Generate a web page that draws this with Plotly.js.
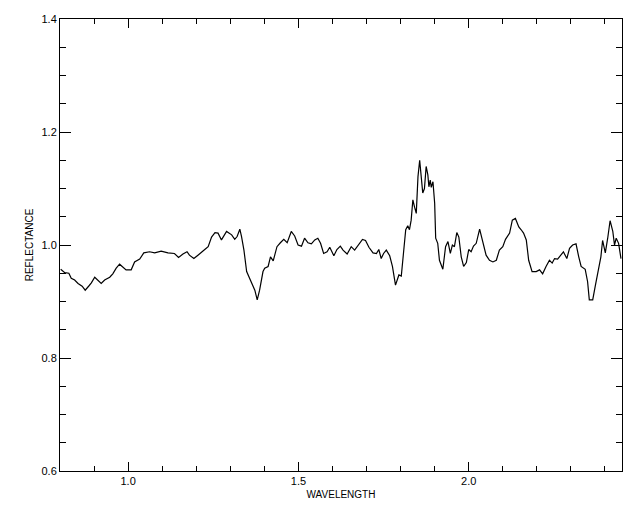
<!DOCTYPE html>
<html>
<head>
<meta charset="utf-8">
<script src="https://cdn.plot.ly/plotly-3.0.1.min.js"></script>
<style>
  html, body { margin: 0; padding: 0; background: #fff; }
  #chart { width: 640px; height: 512px; }
</style>
</head>
<body>
<div id="chart"></div>
<script>
// Wavelength (microns)
const wavelength = [
  0.802, 0.814, 0.826, 0.833, 0.843, 0.853, 0.865, 0.874, 0.884, 0.892,
  0.902, 0.911, 0.921, 0.931, 0.946, 0.955, 0.965, 0.975, 0.985, 0.994,
  1.009, 1.019, 1.034, 1.046, 1.063, 1.078, 1.097, 1.117, 1.136, 1.148,
  1.161, 1.173, 1.180, 1.193, 1.205, 1.219, 1.225, 1.235, 1.245, 1.255,
  1.264, 1.274, 1.289, 1.304, 1.313, 1.320, 1.328, 1.333, 1.340, 1.348,
  1.357, 1.365, 1.372, 1.379, 1.386, 1.396, 1.401, 1.411, 1.418, 1.426,
  1.437, 1.447, 1.457, 1.467, 1.479, 1.489, 1.499, 1.509, 1.518, 1.528,
  1.538, 1.548, 1.557, 1.565, 1.574, 1.584, 1.592, 1.604, 1.613, 1.623,
  1.631, 1.643, 1.655, 1.665, 1.675, 1.688, 1.697, 1.707, 1.719, 1.729,
  1.736, 1.743, 1.750, 1.758, 1.768, 1.776, 1.785, 1.795, 1.802, 1.809,
  1.815, 1.821, 1.826, 1.831, 1.836, 1.841, 1.846, 1.851, 1.856, 1.861,
  1.865, 1.870, 1.875, 1.880, 1.883, 1.887, 1.890, 1.895, 1.900, 1.903,
  1.909, 1.914, 1.924, 1.932, 1.939, 1.946, 1.952, 1.958, 1.965, 1.971,
  1.978, 1.985, 1.993, 2.000, 2.007, 2.014, 2.022, 2.032, 2.039, 2.051,
  2.061, 2.071, 2.081, 2.090, 2.100, 2.108, 2.120, 2.128, 2.137, 2.147,
  2.154, 2.161, 2.169, 2.176, 2.186, 2.198, 2.208, 2.217, 2.227, 2.237,
  2.245, 2.252, 2.261, 2.271, 2.278, 2.288, 2.296, 2.305, 2.315, 2.323,
  2.330, 2.342, 2.349, 2.354, 2.364, 2.372, 2.381, 2.388, 2.393, 2.401,
  2.408, 2.415, 2.423, 2.428, 2.433, 2.440, 2.447
];

// Reflectance
const reflectance = [
  0.957, 0.951, 0.950, 0.941, 0.938, 0.932, 0.927, 0.920, 0.927, 0.933,
  0.943, 0.938, 0.932, 0.938, 0.943, 0.949, 0.959, 0.966, 0.961, 0.956,
  0.956, 0.970, 0.975, 0.986, 0.988, 0.986, 0.989, 0.986, 0.985, 0.978,
  0.984, 0.988, 0.982, 0.976, 0.982, 0.988, 0.992, 0.997, 1.014, 1.022,
  1.021, 1.009, 1.024, 1.018, 1.010, 1.015, 1.028, 1.015, 0.991, 0.953,
  0.941, 0.929, 0.920, 0.903, 0.920, 0.953, 0.959, 0.962, 0.979, 0.972,
  0.997, 1.004, 1.010, 1.004, 1.024, 1.016, 1.000, 0.998, 1.012, 1.004,
  1.002, 1.009, 1.012, 1.003, 0.985, 0.988, 0.996, 0.981, 0.992, 0.998,
  0.991, 0.984, 0.997, 0.991, 1.000, 1.010, 1.008, 0.996, 0.986, 0.985,
  0.992, 0.976, 0.985, 0.991, 0.981, 0.962, 0.929, 0.947, 0.945, 0.991,
  1.027, 1.034, 1.027, 1.044, 1.080, 1.067, 1.056, 1.121, 1.150, 1.118,
  1.092, 1.100, 1.139, 1.124, 1.103, 1.115, 1.102, 1.112, 1.074, 1.012,
  1.003, 0.973, 0.957, 0.997, 1.006, 0.985, 1.000, 0.997, 1.022, 1.014,
  0.979, 0.962, 0.969, 0.992, 0.988, 0.998, 1.003, 1.028, 1.009, 0.982,
  0.973, 0.970, 0.973, 0.991, 0.997, 1.010, 1.021, 1.044, 1.047, 1.032,
  1.027, 1.021, 1.009, 0.973, 0.953, 0.953, 0.956, 0.949, 0.962, 0.973,
  0.968, 0.976, 0.975, 0.982, 0.988, 0.976, 0.994, 1.000, 1.002, 0.979,
  0.962, 0.957, 0.935, 0.903, 0.903, 0.929, 0.959, 0.979, 1.008, 0.986,
  1.012, 1.043, 1.024, 1.000, 1.012, 1.003, 0.976
];

const xTickVals = [1.0, 1.5, 2.0];
const xTickText = ['1.0', '1.5', '2.0'];
const yTickVals = [0.6, 0.8, 1.0, 1.2, 1.4];
const yTickText = ['0.6', '0.8', '1.0', '1.2', '1.4'];

const tickFont = { family: 'Liberation Sans, Arial, sans-serif', size: 11, color: '#000' };
const titleFont = { family: 'Liberation Sans, Arial, sans-serif', size: 10, color: '#000' };

const trace = {
  x: wavelength,
  y: reflectance,
  type: 'scatter',
  mode: 'lines',
  line: { color: '#000', width: 1.2 },
  hoverinfo: 'skip'
};

const layout = {
  width: 640,
  height: 512,
  margin: { l: 60, r: 18, t: 19, b: 41, pad: 0 },
  paper_bgcolor: '#fff',
  plot_bgcolor: '#fff',
  showlegend: false,
  xaxis: {
    range: [0.8, 2.45],
    tickmode: 'array',
    tickvals: xTickVals,
    ticktext: xTickText,
    ticks: 'inside',
    ticklen: 9,
    tickwidth: 1,
    tickcolor: '#000',
    minor: { dtick: 0.1, tick0: 0.8, ticks: 'inside', ticklen: 5, tickwidth: 1, tickcolor: '#000', showgrid: false },
    showline: true,
    linecolor: '#000',
    linewidth: 1,
    mirror: 'ticks',
    showgrid: false,
    zeroline: false,
    tickfont: tickFont,
    title: { text: 'WAVELENGTH', font: titleFont, standoff: 4 }
  },
  yaxis: {
    range: [0.6, 1.4],
    tickmode: 'array',
    tickvals: yTickVals,
    ticktext: yTickText,
    ticks: 'inside',
    ticklen: 11,
    tickwidth: 1,
    tickcolor: '#000',
    minor: { dtick: 0.05, tick0: 0.6, ticks: 'inside', ticklen: 6, tickwidth: 1, tickcolor: '#000', showgrid: false },
    showline: true,
    linecolor: '#000',
    linewidth: 1,
    mirror: 'ticks',
    showgrid: false,
    zeroline: false,
    tickfont: tickFont,
    title: { text: 'REFLECTANCE', font: titleFont, standoff: 6 }
  }
};

Plotly.newPlot('chart', [trace], layout, { staticPlot: true, displayModeBar: false });
</script>
</body>
</html>
